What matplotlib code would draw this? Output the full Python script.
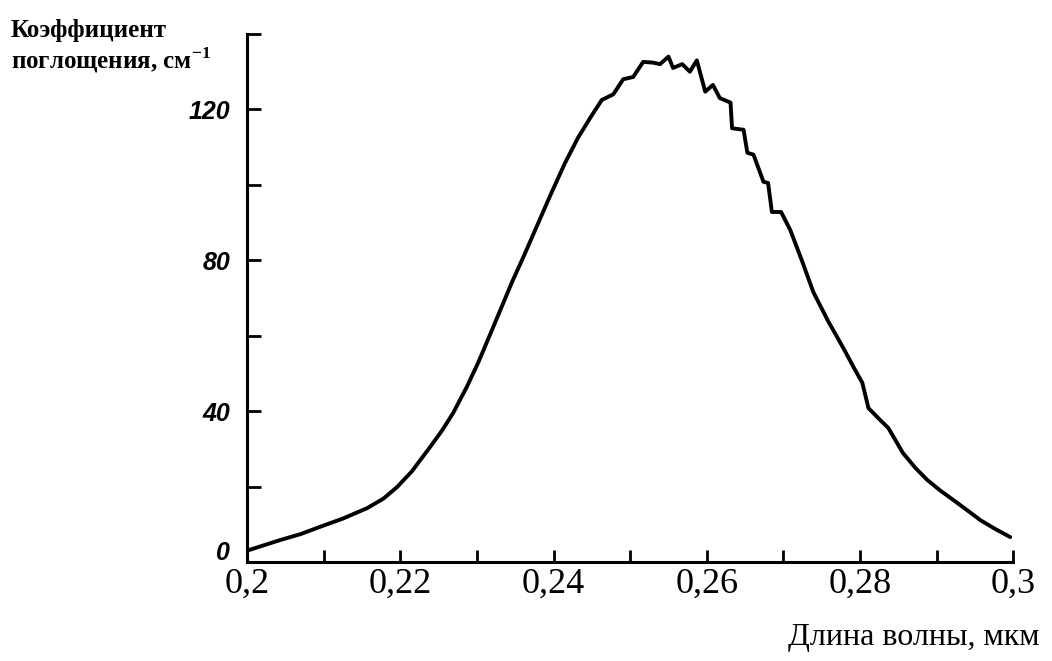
import numpy as np
import matplotlib.pyplot as plt
from matplotlib.transforms import ScaledTranslation

plt.rcParams['mathtext.fontset'] = 'custom'
plt.rcParams['mathtext.rm'] = 'Liberation Serif'
plt.rcParams['mathtext.bf'] = 'Liberation Serif:bold'

# длина волны, мкм
wavelength = [0.2000, 0.2020, 0.2043, 0.2070, 0.2095, 0.2125, 0.2157, 0.2178,
              0.2196, 0.2215, 0.2239, 0.2255, 0.2269, 0.2287, 0.2302, 0.2317,
              0.2331, 0.2346, 0.2361, 0.2376, 0.2396, 0.2415, 0.2432, 0.2448,
              0.2463, 0.2478, 0.2491, 0.2504, 0.2517, 0.2530, 0.2539, 0.2550,
              0.2556, 0.2568, 0.2578, 0.2587, 0.2598, 0.2608, 0.2617, 0.2631,
              0.2633, 0.2648, 0.2653, 0.2661, 0.2674, 0.2680, 0.2685, 0.2697,
              0.2709, 0.2724, 0.2739, 0.2758, 0.2778, 0.2792, 0.2803, 0.2811,
              0.2826, 0.2837, 0.2856, 0.2872, 0.2888, 0.2905, 0.2922, 0.2940,
              0.2957, 0.2976, 0.2996]
# коэффициент поглощения, см^-1
absorption = [3.0, 4.3, 5.8, 7.4, 9.3, 11.5, 14.3, 16.8,
              19.9, 24.0, 30.5, 35.0, 39.5, 46.5, 53.0, 60.2,
              67.0, 74.3, 81.0, 88.0, 97.3, 105.8, 112.5, 117.8,
              122.5, 124.0, 128.0, 128.6, 132.6, 132.4, 132.0, 134.0,
              131.0, 132.0, 130.0, 133.0, 124.7, 126.5, 123.0, 121.8,
              115.0, 114.6, 108.5, 108.0, 100.8, 100.5, 92.8, 92.8,
              88.0, 80.0, 71.6, 64.0, 56.8, 51.5, 47.5, 40.8,
              37.7, 35.5, 28.9, 25.0, 21.7, 18.9, 16.4, 13.7,
              11.1, 8.8, 6.6]

x_major = [0.2, 0.22, 0.24, 0.26, 0.28, 0.3]
x_labels = ["0,2", "0,22", "0,24", "0,26", "0,28", "0,3"]
y_ticks = [0, 20, 40, 60, 80, 100, 120, 140]
y_labels = ["0", "", "40", "", "80", "", "120", ""]

fig = plt.figure(figsize=(10.52, 6.61), dpi=100)
ax = fig.add_axes([0.2348, 0.1498, 0.7284, 0.7988])

ax.plot(wavelength, absorption, color="black", lw=2.8,
        solid_joinstyle="round", solid_capstyle="round")

ax.set_xlim(0.2, 0.3)
ax.set_ylim(0, 140)

for s in ["top", "right"]:
    ax.spines[s].set_visible(False)
for s in ["left", "bottom"]:
    ax.spines[s].set_linewidth(2.2)

ax.set_xticks(np.arange(0.2, 0.3001, 0.01), minor=True)
ax.set_xticks(x_major)
ax.set_xticklabels(x_labels, family="Liberation Serif", fontsize=26)
ax.tick_params(axis="x", which="both", direction="in", length=9, width=2, pad=4)

ax.set_yticks(y_ticks)
ax.set_yticklabels(y_labels, family="Liberation Sans", fontsize=18,
                   style="italic", weight="bold")
ax.tick_params(axis="y", direction="in", length=10, width=2, pad=12)

# "0" поднят выше, как на оригинале
lab0 = ax.get_yticklabels()[0]
lab0.set_transform(lab0.get_transform() + ScaledTranslation(0, 8 / 72, fig.dpi_scale_trans))

fig.text(0.01, 0.972, "Коэффициент\nпоглощения, см$^{\\mathbf{-1}}$", family="Liberation Serif",
         fontsize=18, weight="bold", va="top", ha="left", linespacing=1.15)
fig.text(0.988, 0.035, "Длина волны, мкм", family="Liberation Serif",
         fontsize=23, va="center", ha="right")

fig.savefig("out.png", dpi=100)
